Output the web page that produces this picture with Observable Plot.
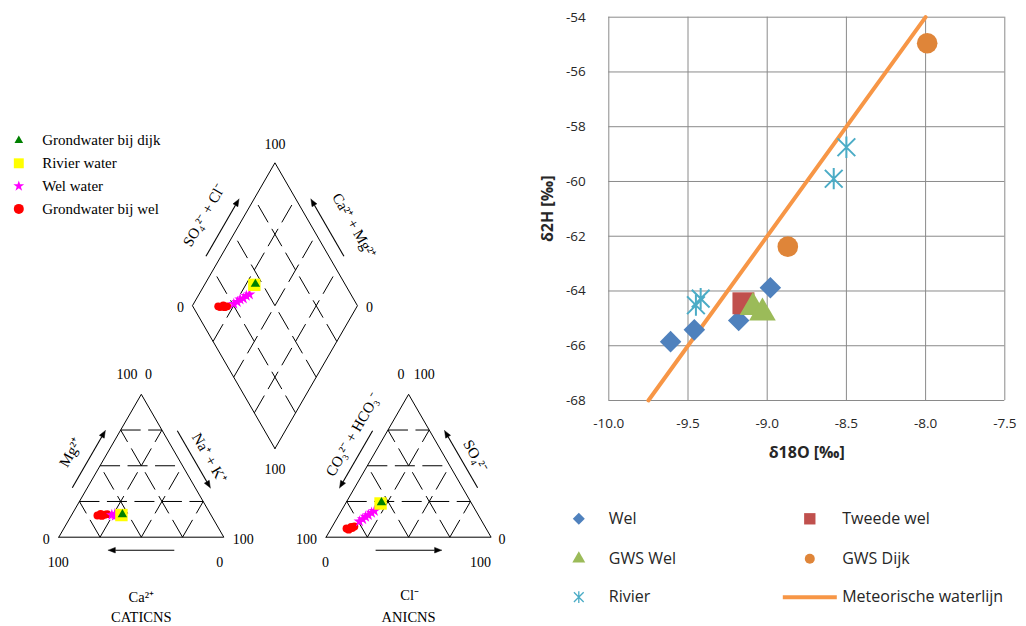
<!DOCTYPE html>
<html>
<head>
<meta charset="utf-8">
<script src="https://cdn.jsdelivr.net/npm/d3@7"></script>
<script src="https://cdn.jsdelivr.net/npm/@observablehq/plot@0.6"></script>
<style>
  html, body { margin: 0; padding: 0; background: #ffffff; }
  #wrap { position: relative; width: 1026px; height: 626px; overflow: hidden; background: #fff; }
  #piper { position: absolute; left: 0; top: 0; width: 520px; height: 626px; }
  #iso { position: absolute; left: 520px; top: 0; width: 506px; height: 626px; }
  svg { overflow: visible; }
</style>
</head>
<body>
<div id="wrap"><div id="piper"></div><div id="iso"></div></div>
<script>
// ================= PIPER DIAGRAM DATA =================
const piperGroups  = ["Grondwater bij dijk", "Rivier water", "Wel water", "Grondwater bij wel"];
const piperColors  = ["#008000", "#FFFF00", "#FF00FF", "#FF0000"];
const piperSymbols = ["triangle", "square", "star", "circle"];
const piperDrawOrder = ["Grondwater bij wel", "Wel water", "Rivier water", "Grondwater bij dijk"];

const sampleGroup = [
  "Grondwater bij wel", "Grondwater bij wel", "Grondwater bij wel", "Grondwater bij wel", "Grondwater bij wel",
  "Wel water", "Wel water", "Wel water", "Wel water", "Wel water", "Wel water",
  "Rivier water", "Grondwater bij dijk"
];
// cations (% meq): Mg2+ and Na+ + K+ (Ca2+ is the rest)
const cationMg  = [15.2, 16.3, 14.9, 15.7, 16.1, 15.5, 16.2, 15.0, 16.0, 15.3, 15.8, 15.5, 15.9];
const cationNaK = [15.8, 17.2, 18.6, 20.0, 21.3, 24.4, 25.9, 26.7, 28.3, 29.2, 30.6, 30.2, 30.6];
// anions (% meq): SO4 2- and Cl- (CO3 2- + HCO3- is the rest)
const anionSO4  = [6.1, 5.3, 7.2, 6.4, 7.5, 11.0, 12.6, 14.3, 15.5, 17.1, 18.4, 23.6, 24.3];
const anionCl   = [9.3, 11.0, 11.6, 12.6, 13.4, 14.7, 15.9, 16.8, 17.9, 19.0, 20.1, 21.2, 21.4];
const piperTicks = [25, 50, 75];

// ================= ISOTOPE DATA =================
const welX = [-9.61, -9.46, -9.18, -8.98];
const welY = [-65.85, -65.42, -65.08, -63.88];
const tweedeWelX = [-9.15];
const tweedeWelY = [-64.45];
const gwsWelX = [-9.09, -9.03];
const gwsWelY = [-64.6, -64.8];
const gwsDijkX = [-7.99, -8.87];
const gwsDijkY = [-54.95, -62.38];
const rivierX = [-8.50, -8.58, -9.45, -9.42];
const rivierY = [-58.75, -59.90, -64.52, -64.28];
const mwlX = [-9.75, -8.0];
const mwlY = [-68, -54];
const xTicks = [-10, -9.5, -9, -8.5, -8, -7.5];
const yTicks = [-68, -66, -64, -62, -60, -58, -56, -54];
const isoSeries = ["Wel", "Tweede wel", "GWS Wel", "GWS Dijk", "Rivier", "Meteorische waterlijn"];
const isoColors = ["#4F81BD", "#C0504D", "#9BBB59", "#DF8539", "#4BACC6", "#F79646"];

// ================= PIPER GEOMETRY =================
const k = 1.65, ox = 58.3, oy = 536.7, PW = 520, PH = 626;
const S = 100, G = 62, R3 = Math.sqrt(3) / 2, H = S * R3;
const cat = {A: [0, 0], B: [S, 0], C: [S / 2, H]};                 // A=Ca, B=Na+K, C=Mg
const ani = {A: [S + G, 0], B: [2 * S + G, 0], C: [S + G + S / 2, H]}; // A=CO3+HCO3, B=Cl, C=SO4
const hB = (G / 2) * Math.sqrt(3);
const dia = {B: [S + G / 2, hB], L: [(S + G) / 2, hB + H], R: [S + G / 2 + S / 2, hB + H], T: [S + G / 2, hB + 2 * H]};

const lerp = (P, Q, t) => [P[0] + (Q[0] - P[0]) * t, P[1] + (Q[1] - P[1]) * t];
const bary = (T, wa, wb, wc) => [T.A[0] * wa + T.B[0] * wb + T.C[0] * wc, T.A[1] * wa + T.B[1] * wb + T.C[1] * wc];
const center = pts => [d3.mean(pts, p => p[0]), d3.mean(pts, p => p[1])];
const cC = center([cat.A, cat.B, cat.C]), aC = center([ani.A, ani.B, ani.C]), dC = center([dia.B, dia.L, dia.R, dia.T]);
function edgePoint(P, Q, f, offPx, C) {
  const dx = Q[0] - P[0], dy = Q[1] - P[1], L = Math.hypot(dx, dy);
  let nx = -dy / L, ny = dx / L;
  const M = lerp(P, Q, f);
  if ((M[0] - C[0]) * nx + (M[1] - C[1]) * ny < 0) { nx = -nx; ny = -ny; }
  return [M[0] + nx * offPx / k, M[1] + ny * offPx / k];
}

// grid lines
const grid = [];
for (const T of [cat, ani]) for (const t of piperTicks) {
  const f = t / 100;
  grid.push([bary(T, f, 1 - f, 0), bary(T, f, 0, 1 - f)]);
  grid.push([bary(T, 1 - f, f, 0), bary(T, 0, f, 1 - f)]);
  grid.push([bary(T, 1 - f, 0, f), bary(T, 0, 1 - f, f)]);
}
for (const t of piperTicks) {
  const f = t / 100;
  grid.push([lerp(dia.B, dia.R, f), lerp(dia.L, dia.T, f)]);
  grid.push([lerp(dia.B, dia.L, f), lerp(dia.R, dia.T, f)]);
}
// outlines
const outline = [];
[[cat.A, cat.B, cat.C, cat.A], [ani.A, ani.B, ani.C, ani.A], [dia.B, dia.R, dia.T, dia.L, dia.B]]
  .forEach((pts, i) => pts.forEach(p => outline.push({shape: i, x: p[0], y: p[1]})));
// arrows (shaft + filled head)
const arrowDefs = [[cat.A, cat.C, cC], [cat.C, cat.B, cC], [cat.B, cat.A, cC],
                   [ani.C, ani.A, aC], [ani.B, ani.C, aC], [ani.A, ani.B, aC],
                   [dia.L, dia.T, dC], [dia.R, dia.T, dC]];
const arrows = [], heads = [];
arrowDefs.forEach(([P, Q, C], i) => {
  const a = edgePoint(P, Q, 0.3, 13, C), b = edgePoint(P, Q, 0.7, 13, C);
  const L = Math.hypot(b[0] - a[0], b[1] - a[1]);
  const ux = (b[0] - a[0]) / L, uy = (b[1] - a[1]) / L;
  const hl = 7 / k, hw = 2.8 / k;
  const bx = b[0] - ux * hl, by = b[1] - uy * hl;
  arrows.push({x1: a[0], y1: a[1], x2: bx, y2: by});
  heads.push({id: i, x: b[0], y: b[1]}, {id: i, x: bx - uy * hw, y: by + ux * hw}, {id: i, x: bx + uy * hw, y: by - ux * hw}, {id: i, x: b[0], y: b[1]});
});
// edge labels
const edgeLabels = [
  {P: cat.A, Q: cat.C, C: cC, f: 0.48, off: 32, rot: -60, text: "Mg²⁺"},
  {P: cat.C, Q: cat.B, C: cC, f: 0.54, off: 27, rot: 60, text: "Na⁺ + K⁺"},
  {P: dia.L, Q: dia.T, C: dC, f: 0.51, off: 35, rot: -60, text: "SO₄²⁻ + Cl⁻"},
  {P: dia.T, Q: dia.R, C: dC, f: 0.57, off: 37, rot: 60, text: "Ca²⁺ + Mg²⁺"},
  {P: ani.A, Q: ani.C, C: aC, f: 0.62, off: 28, rot: -60, text: "CO₃²⁻ + HCO₃⁻"},
  {P: ani.C, Q: ani.B, C: aC, f: 0.525, off: 27, rot: 60, text: "SO₄²⁻"}
].map(d => { const p = edgePoint(d.P, d.Q, d.f, d.off, d.C); return {x: p[0], y: p[1], rot: d.rot, text: d.text}; });
// vertex labels (offsets in px)
const vl = (V, dxp, dyp, text) => ({x: V[0] + dxp / k, y: V[1] - dyp / k, text});
const baseMid = T => lerp(T.A, T.B, 0.5);
const vertexLabels = [
  vl(cat.C, -14.3, -19.3, "100"), vl(cat.C, 7.3, -19.3, "0"),
  vl(cat.A, -12.6, 2.3, "0"), vl(cat.A, -0.6, 25, "100"),
  vl(cat.B, 19.4, 2.3, "100"), vl(cat.B, -4, 25, "0"),
  vl(ani.C, -7.7, -19.3, "0"), vl(ani.C, 15.6, -19.3, "100"),
  vl(ani.A, -19.7, 2.3, "100"), vl(ani.A, -0.7, 25, "0"),
  vl(ani.B, 11, 2, "0"), vl(ani.B, -10.7, 25, "100"),
  vl(dia.T, 0, -18, "100"), vl(dia.L, -12, 2.3, "0"), vl(dia.R, 12, 2.3, "0"), vl(dia.B, 0, 21, "100")
];
const axisNames = [
  vl(baseMid(cat), 0, 60, "Ca²⁺"), vl(baseMid(cat), 0, 80, "CATICNS"),
  vl(baseMid(ani), 1, 58, "Cl⁻"), vl(baseMid(ani), 0, 80, "ANICNS")
];
// sample positions
const piperPts = [];
sampleGroup.forEach((g, i) => {
  const mg = cationMg[i] / 100, nak = cationNaK[i] / 100, so4 = anionSO4[i] / 100, cl = anionCl[i] / 100;
  const pc = bary(cat, 1 - mg - nak, nak, mg);
  const pa = bary(ani, 1 - so4 - cl, cl, so4);
  const a = nak, b = so4 + cl, s = S + G + S * b - S * a;
  const pd = [S * a + 0.5 * s, R3 * s];
  for (const p of [pc, pa, pd]) piperPts.push({group: g, x: p[0], y: p[1]});
});
const piperR = {"Grondwater bij wel": 3.9, "Wel water": 3.7, "Rivier water": 7, "Grondwater bij dijk": 3.5};
const piperLegR = {"Grondwater bij wel": 5, "Wel water": 3.4, "Rivier water": 5.6, "Grondwater bij dijk": 3.2};

const piperMarks = [
  Plot.link(grid, {x1: d => d[0][0], y1: d => d[0][1], x2: d => d[1][0], y2: d => d[1][1],
    stroke: "#000", strokeWidth: 1, strokeDasharray: "20,7.5"}),
  Plot.line(outline, {x: "x", y: "y", z: "shape", stroke: "#000", strokeWidth: 1}),
  Plot.link(arrows, {x1: "x1", y1: "y1", x2: "x2", y2: "y2", stroke: "#000", strokeWidth: 1.1}),
  Plot.line(heads, {x: "x", y: "y", z: "id", fill: "#000", stroke: "#000", strokeWidth: 0.5}),
  Plot.text(edgeLabels, {x: "x", y: "y", text: "text", rotate: "rot", fontSize: 15, fill: "#000"}),
  Plot.text(vertexLabels, {x: "x", y: "y", text: "text", fontSize: 14, fill: "#000"}),
  Plot.text(axisNames, {x: "x", y: "y", text: "text", fontSize: 14.5, fill: "#000"})
];
for (const g of piperDrawOrder) {
  const gi = piperGroups.indexOf(g);
  piperMarks.push(Plot.dot(piperPts.filter(d => d.group === g),
    {x: "x", y: "y", symbol: piperSymbols[gi], r: piperR[g], fill: piperColors[gi], stroke: "none"}));
}
piperGroups.forEach((g, i) => {
  piperMarks.push(Plot.dot([g], {frameAnchor: "top-left", dx: 18.3, dy: 140 + i * 22.8,
    symbol: piperSymbols[i], r: piperLegR[g], fill: piperColors[i], stroke: "none"}));
  piperMarks.push(Plot.text([g], {frameAnchor: "top-left", dx: 41.7, dy: 140 + i * 22.8, text: d => d,
    textAnchor: "start", lineAnchor: "middle", fontSize: 15, fill: "#000"}));
});

const piper = Plot.plot({
  width: PW, height: PH,
  marginTop: 0, marginRight: 0, marginBottom: 0, marginLeft: 0,
  x: {domain: [-ox / k, (PW - ox) / k], range: [0, PW], axis: null},
  y: {domain: [(oy - PH) / k, oy / k], range: [PH, 0], axis: null},
  style: {fontFamily: "'Liberation Serif', 'Times New Roman', serif", fontSize: "14px", color: "#000", background: "#fff"},
  marks: piperMarks
});
document.getElementById("piper").appendChild(piper);

// ================= ISOTOPE SCATTER =================
const zip = (xs, ys) => xs.map((x, i) => ({x, y: ys[i]}));
const excelStar = {
  draw(ctx, size) {
    const s = Math.sqrt(size), r = s * 0.6, d = s * 0.5;
    ctx.moveTo(0, -r); ctx.lineTo(0, r);
    ctx.moveTo(-d, -d); ctx.lineTo(d, d);
    ctx.moveTo(-d, d); ctx.lineTo(d, -d);
  }
};
const lineSwatch = {
  draw(ctx) { ctx.moveTo(-27, 0); ctx.lineTo(27, 0); }
};

const legItems = [
  {name: isoSeries[0], col: 0, row: 0, symbol: "diamond2", r: 5.4, fill: isoColors[0], stroke: "none"},
  {name: isoSeries[1], col: 1, row: 0, symbol: "square", r: 6.4, fill: isoColors[1], stroke: "none"},
  {name: isoSeries[2], col: 0, row: 1, symbol: "triangle", r: 4.8, fill: isoColors[2], stroke: "none"},
  {name: isoSeries[3], col: 1, row: 1, symbol: "circle", r: 5, fill: isoColors[3], stroke: "none"},
  {name: isoSeries[4], col: 0, row: 2, symbol: excelStar, r: 5.5, fill: "none", stroke: isoColors[4], sw: 1.3},
  {name: isoSeries[5], col: 1, row: 2, symbol: lineSwatch, r: 5, fill: "none", stroke: isoColors[5], sw: 4}
];
const legColSym = [-30, 201], legColText = [0, 233.4], legRowDy = [118.3, 158.3, 196.7];
const legMarks = [];
for (const it of legItems) {
  legMarks.push(Plot.dot([it.name], {frameAnchor: "bottom-left", dx: legColSym[it.col], dy: legRowDy[it.row],
    symbol: it.symbol, r: it.r, fill: it.fill, stroke: it.stroke, strokeWidth: it.sw || 1}));
  legMarks.push(Plot.text([it.name], {frameAnchor: "bottom-left", dx: legColText[it.col], dy: legRowDy[it.row],
    text: d => d, textAnchor: "start", lineAnchor: "middle", fontSize: 16, fill: "#262626"}));
}

const iso = Plot.plot({
  width: 506, height: 626,
  marginLeft: 88.3, marginRight: 21.7, marginTop: 16.7, marginBottom: 226,
  x: {domain: [-10, -7.5], ticks: xTicks, tickSize: 0, tickPadding: 18, tickFormat: d => d.toFixed(1), label: null},
  y: {domain: [-68, -54], ticks: yTicks, tickSize: 0, tickPadding: 23, tickFormat: d => String(d), label: null},
  style: {fontFamily: "'Open Sans', sans-serif", fontSize: "13.5px", color: "#262626", background: "#fff"},
  marks: [
    Plot.ruleX(xTicks, {stroke: "#8a8a8a", strokeWidth: 1}),
    Plot.ruleY(yTicks, {stroke: "#8a8a8a", strokeWidth: 1}),
    Plot.line(zip(mwlX, mwlY), {x: "x", y: "y", stroke: isoColors[5], strokeWidth: 4}),
    Plot.dot(zip(welX, welY), {x: "x", y: "y", symbol: "diamond2", r: 9.7, fill: isoColors[0], stroke: "none"}),
    Plot.dot(zip(tweedeWelX, tweedeWelY), {x: "x", y: "y", symbol: "square", r: 12.4, fill: isoColors[1], stroke: "none"}),
    Plot.dot(zip(gwsWelX, gwsWelY), {x: "x", y: "y", symbol: "triangle", r: 9.9, fill: isoColors[2], stroke: "none"}),
    Plot.dot(zip(gwsDijkX, gwsDijkY), {x: "x", y: "y", symbol: "circle", r: 10.3, fill: isoColors[3], stroke: "none"}),
    Plot.dot(zip(rivierX, rivierY), {x: "x", y: "y", symbol: excelStar, r: 10, fill: "none", stroke: isoColors[4], strokeWidth: 2}),
    Plot.text(["δ18O [‰]"], {frameAnchor: "bottom", dy: 52.5, text: d => d, textAnchor: "middle", lineAnchor: "middle",
      fontWeight: "bold", fontSize: 16, fill: "#262626"}),
    Plot.text(["δ2H [‰]"], {frameAnchor: "left", dx: -61, text: d => d, rotate: -90, textAnchor: "middle", lineAnchor: "middle",
      fontWeight: "bold", fontSize: 16, fill: "#262626"}),
    ...legMarks
  ]
});
document.getElementById("iso").appendChild(iso);
</script>
</body>
</html>
